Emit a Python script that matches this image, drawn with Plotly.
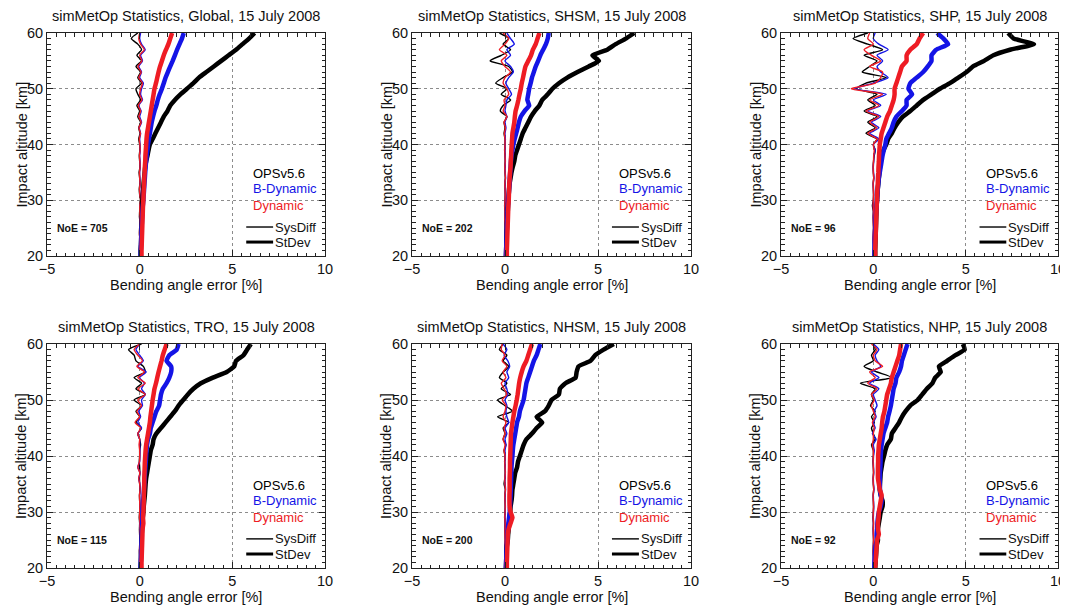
import plotly.graph_objects as go

ALT = [20, 21, 22, 23, 24, 25, 26, 27, 28, 29, 30, 31, 32, 33, 34, 35, 36, 37, 38, 39, 40,
       41, 42, 43, 44, 45, 46, 47, 48, 49, 50, 51, 52, 53, 54, 55, 56, 57, 58, 59, 60]

REGIONS = ["Global", "SHSM", "SHP", "TRO", "NHSM", "NHP"]
NOE = [705, 202, 96, 115, 200, 92]
MODELS = ["OPSv5.6", "B-Dynamic", "Dynamic"]

# ---------------- Global ----------------
glob_ops_sd = [0.05, 0.06, 0.07, 0.08, 0.09, 0.10, 0.11, 0.12, 0.13, 0.14, 0.15,
               0.17, 0.19, 0.21, 0.24, 0.27, 0.30, 0.35, 0.42, 0.48, 0.55,
               0.70, 0.85, 1.00, 1.15, 1.30, 1.50, 1.65, 1.90, 2.20, 2.55,
               2.90, 3.20, 3.60, 4.00, 4.40, 4.80, 5.20, 5.55, 5.90, 6.20]
glob_bd_sd = [0.05, 0.06, 0.07, 0.08, 0.09, 0.10, 0.12, 0.13, 0.15, 0.17, 0.20,
              0.22, 0.24, 0.26, 0.28, 0.30, 0.32, 0.35, 0.38, 0.42, 0.45,
              0.50, 0.55, 0.60, 0.65, 0.72, 0.80, 0.90, 0.98, 1.08, 1.20,
              1.30, 1.40, 1.52, 1.65, 1.78, 1.90, 2.02, 2.15, 2.28, 2.38]
glob_dy_sd = [0.10, 0.10, 0.11, 0.12, 0.13, 0.14, 0.15, 0.16, 0.17, 0.18, 0.20,
              0.21, 0.22, 0.24, 0.25, 0.27, 0.28, 0.30, 0.31, 0.33, 0.35,
              0.37, 0.40, 0.45, 0.50, 0.55, 0.60, 0.65, 0.70, 0.75, 0.80,
              0.88, 0.95, 1.02, 1.10, 1.20, 1.30, 1.42, 1.55, 1.65, 1.75]
glob_ops_sys = [0.00, -0.02, 0.00, 0.01, -0.01, 0.00, 0.02, -0.01, 0.00, 0.01, 0.05,
                0.00, -0.02, 0.01, 0.00, -0.03, 0.02, 0.00, -0.02, 0.01, 0.00,
                -0.05, 0.02, -0.05, 0.05, -0.10, 0.00, -0.15, 0.05, -0.10, -0.20,
                0.10, -0.10, 0.05, -0.20, 0.10, -0.15, 0.10, -0.10, -0.45, -0.10]
glob_bd_sys = [0.00, 0.01, 0.00, 0.02, 0.00, 0.01, 0.02, 0.00, 0.01, 0.02, 0.10,
               0.02, 0.00, 0.03, 0.01, 0.00, 0.03, 0.02, 0.00, 0.03, 0.02,
               0.00, 0.05, -0.02, 0.10, 0.00, 0.08, -0.05, 0.15, 0.05, 0.10,
               0.20, 0.00, 0.10, -0.05, 0.15, 0.05, 0.30, 0.10, 0.00, 0.05]
glob_dy_sys = [0.00, 0.00, 0.01, 0.01, -0.01, 0.00, 0.01, 0.00, 0.00, 0.01, 0.05,
               0.01, -0.01, 0.02, 0.00, -0.01, 0.02, 0.01, -0.01, 0.02, 0.01,
               -0.02, 0.04, -0.04, 0.08, -0.05, 0.05, -0.08, 0.12, 0.00, 0.05,
               0.15, -0.05, 0.08, -0.10, 0.12, 0.00, 0.25, 0.05, -0.05, 0.00]

# ---------------- SHSM ----------------
shsm_ops_sd = [0.05, 0.06, 0.07, 0.08, 0.09, 0.10, 0.11, 0.13, 0.15, 0.16, 0.18,
               0.20, 0.22, 0.25, 0.30, 0.35, 0.42, 0.50, 0.55, 0.65, 0.75,
               0.85, 0.95, 1.10, 1.25, 1.40, 1.60, 1.85, 2.00, 2.30, 2.55,
               2.90, 3.35, 3.90, 4.50, 5.05, 4.70, 5.50, 5.95, 6.50, 6.95]
shsm_bd_sd = [0.05, 0.06, 0.07, 0.08, 0.09, 0.10, 0.11, 0.13, 0.14, 0.16, 0.18,
              0.20, 0.22, 0.24, 0.26, 0.28, 0.30, 0.32, 0.35, 0.40, 0.45,
              0.52, 0.60, 0.68, 0.75, 0.85, 1.05, 1.30, 1.20, 1.25, 1.30,
              1.38, 1.45, 1.55, 1.65, 1.78, 1.90, 2.05, 2.20, 2.30, 2.35]
shsm_dy_sd = [0.10, 0.10, 0.11, 0.12, 0.13, 0.14, 0.15, 0.16, 0.17, 0.18, 0.20,
              0.21, 0.22, 0.23, 0.25, 0.27, 0.30, 0.31, 0.33, 0.34, 0.36,
              0.38, 0.40, 0.45, 0.50, 0.53, 0.57, 0.65, 0.72, 0.78, 0.85,
              0.90, 0.97, 1.03, 1.10, 1.25, 1.40, 1.50, 1.65, 1.75, 1.85]
shsm_ops_sys = [0.00, 0.01, 0.00, -0.01, 0.00, 0.02, 0.00, -0.01, 0.00, -0.02, 0.00,
                0.01, 0.00, -0.01, 0.02, 0.00, -0.01, 0.01, 0.00, -0.02, 0.00,
                0.00, -0.05, 0.00, -0.05, 0.10, -0.25, -0.10, 0.30, -0.20, 0.10,
                -0.50, -0.10, 0.40, 0.20, -0.80, -0.20, 0.30, -0.10, 0.20, -0.30]
shsm_bd_sys = [0.00, 0.01, 0.01, 0.00, 0.01, 0.02, 0.01, 0.00, 0.01, 0.00, 0.01,
               0.02, 0.01, 0.00, 0.03, 0.01, 0.00, 0.02, 0.01, 0.00, 0.01,
               0.02, 0.00, 0.05, 0.00, 0.10, 0.00, 0.05, 0.10, 0.35, 0.20,
               0.05, 0.20, 0.45, 0.30, 0.00, 0.30, 0.10, 0.50, 0.30, 0.10]
shsm_dy_sys = [0.00, 0.00, 0.01, -0.01, 0.00, 0.01, 0.00, 0.00, 0.01, -0.01, 0.00,
               0.01, 0.00, -0.01, 0.02, 0.00, -0.01, 0.01, 0.00, -0.01, 0.00,
               0.00, -0.03, 0.02, -0.05, 0.10, -0.10, 0.00, -0.05, 0.20, 0.10,
               -0.10, 0.00, 0.30, 0.00, -0.20, 0.10, -0.30, 0.00, 0.20, -0.10]

# ---------------- SHP ----------------
shp_ops_sd = [0.10, 0.10, 0.11, 0.12, 0.13, 0.14, 0.15, 0.16, 0.17, 0.18, 0.20,
              0.22, 0.24, 0.27, 0.30, 0.33, 0.36, 0.40, 0.45, 0.55, 0.70,
              0.80, 1.00, 1.15, 1.35, 1.60, 2.00, 2.35, 2.70, 3.15, 3.60,
              4.15, 4.60, 5.05, 5.40, 6.00, 6.50, 7.40, 8.70, 7.60, 7.30]
shp_bd_sd = [0.05, 0.06, 0.07, 0.08, 0.09, 0.10, 0.12, 0.13, 0.15, 0.17, 0.20,
             0.22, 0.24, 0.27, 0.30, 0.35, 0.40, 0.45, 0.50, 0.57, 0.65,
             0.70, 0.85, 1.00, 1.10, 1.25, 1.55, 1.80, 1.80, 2.10, 1.90,
             2.00, 2.35, 2.70, 2.95, 3.15, 3.15, 3.40, 4.05, 3.80, 3.45]
shp_dy_sd = [0.10, 0.10, 0.11, 0.12, 0.13, 0.14, 0.15, 0.16, 0.17, 0.18, 0.20,
             0.21, 0.22, 0.24, 0.25, 0.27, 0.28, 0.30, 0.31, 0.33, 0.35,
             0.40, 0.45, 0.55, 0.65, 0.75, 0.90, 1.00, 1.10, 1.15, 1.15,
             1.25, 1.35, 1.45, 1.55, 1.80, 1.80, 2.00, 2.35, 2.50, 2.70]
shp_ops_sys = [0.00, 0.01, 0.00, -0.01, 0.00, 0.01, 0.00, -0.01, 0.00, -0.05, 0.00,
               0.01, 0.00, -0.01, 0.02, 0.00, -0.01, 0.01, 0.05, 0.10, 0.00,
               0.20, -0.40, 0.10, -0.30, 0.20, -0.50, 0.10, -0.30, 0.20, -0.90,
               -0.40, 0.70, -0.60, -0.20, 0.20, -0.50, 0.50, -0.30, -1.10, -0.30]
shp_bd_sys = [0.00, 0.01, 0.01, 0.00, 0.01, 0.02, 0.01, 0.00, 0.01, 0.00, 0.01,
              0.02, 0.01, 0.00, 0.03, 0.01, 0.00, 0.02, 0.03, 0.10, 0.00,
              0.30, -0.20, 0.30, -0.10, 0.40, -0.30, 0.40, 0.00, 0.70, -1.00,
              0.00, 0.80, 0.40, 0.20, 0.50, 0.20, 0.80, 0.30, 0.00, 0.10]
shp_dy_sys = [0.00, 0.00, 0.01, -0.01, 0.00, 0.01, 0.00, 0.00, 0.01, -0.01, 0.00,
              0.01, 0.00, -0.01, 0.02, 0.00, -0.01, 0.01, 0.02, 0.05, 0.00,
              0.20, -0.30, 0.20, -0.20, 0.30, -0.40, 0.30, -0.20, 0.50, -1.20,
              0.10, 0.40, 0.50, -0.20, 0.40, -0.10, -0.50, 0.00, -0.30, -0.20]

# ---------------- TRO ----------------
tro_ops_sd = [0.05, 0.06, 0.07, 0.08, 0.09, 0.10, 0.11, 0.13, 0.15, 0.17, 0.20,
              0.22, 0.25, 0.28, 0.30, 0.32, 0.35, 0.40, 0.45, 0.50, 0.55,
              0.60, 0.70, 0.75, 0.90, 1.15, 1.40, 1.65, 1.90, 2.10, 2.35,
              2.60, 2.90, 3.30, 3.95, 4.70, 5.10, 5.20, 5.60, 5.80, 6.00]
tro_bd_sd = [0.05, 0.06, 0.07, 0.08, 0.09, 0.10, 0.11, 0.12, 0.13, 0.14, 0.15,
             0.17, 0.19, 0.21, 0.23, 0.25, 0.27, 0.29, 0.31, 0.33, 0.35,
             0.37, 0.40, 0.45, 0.55, 0.60, 0.70, 0.80, 0.90, 1.05, 1.10,
             1.15, 1.25, 1.45, 1.60, 1.70, 1.70, 1.45, 1.60, 2.00, 2.10]
tro_dy_sd = [0.10, 0.10, 0.11, 0.12, 0.13, 0.14, 0.15, 0.16, 0.20, 0.18, 0.20,
             0.21, 0.22, 0.23, 0.24, 0.25, 0.25, 0.26, 0.27, 0.28, 0.30,
             0.32, 0.35, 0.40, 0.45, 0.50, 0.55, 0.58, 0.62, 0.66, 0.70,
             0.75, 0.80, 0.88, 0.95, 1.02, 1.10, 1.18, 1.25, 1.35, 1.45]
tro_ops_sys = [0.00, 0.01, 0.00, -0.01, 0.00, 0.01, 0.00, -0.01, 0.00, -0.02, 0.00,
               0.01, 0.00, -0.01, 0.02, 0.00, -0.01, 0.01, 0.00, -0.02, 0.00,
               0.00, 0.05, 0.00, -0.10, 0.10, -0.20, 0.00, -0.20, 0.10, -0.30,
               0.30, -0.20, 0.10, -0.30, 0.30, 0.20, -0.20, -0.30, -0.60, 0.10]
tro_bd_sys = [0.00, 0.01, 0.01, 0.00, 0.01, 0.02, 0.01, 0.00, 0.01, 0.00, 0.01,
              0.02, 0.01, 0.00, 0.03, 0.01, -0.05, 0.02, -0.10, 0.00, 0.01,
              0.02, 0.00, 0.00, -0.10, 0.10, -0.10, 0.05, -0.05, 0.15, 0.10,
              0.30, 0.10, 0.25, 0.00, 0.35, -0.10, 0.20, 0.00, -0.20, 0.00]
tro_dy_sys = [0.00, 0.00, 0.01, -0.01, 0.00, 0.01, 0.00, 0.00, 0.01, -0.01, 0.00,
              0.01, 0.00, -0.01, 0.02, 0.00, -0.05, 0.01, -0.10, -0.01, 0.00,
              0.00, -0.03, 0.00, -0.10, 0.05, -0.25, 0.00, -0.15, 0.10, -0.10,
              0.30, -0.10, 0.30, -0.10, 0.25, -0.15, 0.15, -0.10, -0.30, 0.00]

# ---------------- NHSM ----------------
nhsm_ops_sd = [0.05, 0.06, 0.07, 0.08, 0.10, 0.15, 0.17, 0.20, 0.22, 0.25, 0.28,
               0.30, 0.35, 0.38, 0.40, 0.45, 0.50, 0.55, 0.65, 0.70, 0.80,
               0.90, 1.00, 1.15, 1.45, 1.70, 2.00, 1.70, 2.15, 2.35, 2.50,
               2.90, 2.95, 3.25, 3.80, 3.85, 3.95, 4.60, 4.85, 5.30, 5.85]
nhsm_bd_sd = [0.05, 0.06, 0.07, 0.08, 0.10, 0.12, 0.14, 0.16, 0.18, 0.22, 0.25,
              0.27, 0.28, 0.30, 0.31, 0.32, 0.33, 0.34, 0.35, 0.37, 0.40,
              0.42, 0.45, 0.50, 0.55, 0.60, 0.65, 0.75, 0.80, 0.90, 1.00,
              1.05, 1.10, 1.15, 1.25, 1.35, 1.45, 1.55, 1.70, 1.80, 1.90]
nhsm_dy_sd = [0.10, 0.10, 0.11, 0.12, 0.13, 0.14, 0.15, 0.20, 0.30, 0.40, 0.30,
              0.25, 0.24, 0.24, 0.25, 0.25, 0.25, 0.26, 0.27, 0.27, 0.28,
              0.29, 0.30, 0.31, 0.32, 0.36, 0.40, 0.45, 0.50, 0.57, 0.63,
              0.68, 0.72, 0.76, 0.82, 0.90, 1.00, 1.15, 1.25, 1.35, 1.45]
nhsm_ops_sys = [0.00, 0.01, 0.00, -0.01, 0.00, 0.01, 0.00, -0.01, 0.00, -0.02, 0.00,
                0.01, 0.00, -0.01, 0.02, -0.05, -0.01, 0.01, 0.00, -0.02, 0.00,
                -0.05, 0.05, -0.10, 0.00, -0.10, 0.20, -0.40, 0.40, 0.00, -0.40,
                0.30, -0.20, 0.10, -0.30, -0.10, 0.20, -0.10, 0.10, -0.30, -0.10]
nhsm_bd_sys = [0.00, 0.01, 0.01, 0.00, 0.01, 0.02, 0.01, 0.00, 0.01, 0.00, 0.01,
               0.02, 0.01, 0.00, 0.03, 0.01, 0.00, 0.02, 0.01, 0.00, 0.01,
               0.00, 0.05, 0.00, 0.10, 0.00, 0.20, 0.10, 0.05, 0.10, 0.00,
               0.15, 0.10, 0.00, 0.20, 0.10, 0.25, 0.15, -0.05, 0.10, -0.10]
nhsm_dy_sys = [0.00, 0.00, 0.01, -0.01, 0.00, 0.01, 0.00, 0.00, 0.01, -0.01, 0.00,
               0.01, 0.00, -0.01, 0.02, 0.00, -0.01, 0.01, 0.00, -0.01, 0.00,
               -0.05, 0.00, -0.10, 0.00, -0.05, 0.05, -0.10, 0.00, 0.05, -0.15,
               0.10, -0.05, -0.20, 0.05, -0.10, 0.10, -0.15, 0.00, -0.20, -0.15]

# ---------------- NHP ----------------
nhp_ops_sd = [0.10, 0.12, 0.14, 0.16, 0.18, 0.25, 0.22, 0.25, 0.30, 0.35, 0.40,
              0.50, 0.50, 0.40, 0.35, 0.36, 0.38, 0.40, 0.45, 0.50, 0.58,
              0.65, 0.75, 0.95, 1.00, 1.20, 1.40, 1.55, 1.75, 2.00, 2.40,
              2.65, 2.90, 3.20, 3.35, 3.65, 3.55, 4.00, 4.45, 4.95, 4.85]
nhp_bd_sd = [0.05, 0.06, 0.08, 0.10, 0.12, 0.20, 0.18, 0.20, 0.22, 0.25, 0.30,
             0.40, 0.45, 0.40, 0.36, 0.35, 0.35, 0.36, 0.38, 0.39, 0.40,
             0.42, 0.45, 0.50, 0.55, 0.65, 0.75, 0.80, 0.88, 0.95, 1.00,
             1.05, 1.10, 1.20, 1.25, 1.40, 1.50, 1.55, 1.65, 1.75, 1.85]
nhp_dy_sd = [0.10, 0.12, 0.14, 0.16, 0.18, 0.20, 0.30, 0.25, 0.25, 0.28, 0.30,
             0.35, 0.40, 0.45, 0.35, 0.30, 0.25, 0.25, 0.25, 0.26, 0.26,
             0.28, 0.30, 0.35, 0.40, 0.45, 0.48, 0.52, 0.60, 0.65, 0.70,
             0.75, 0.85, 0.95, 1.00, 1.10, 1.20, 1.30, 1.40, 1.45, 1.50]
nhp_ops_sys = [0.00, 0.01, 0.00, -0.01, 0.00, 0.01, 0.00, -0.01, 0.00, -0.02, 0.00,
               0.01, 0.00, -0.01, 0.02, 0.00, -0.01, 0.01, 0.00, -0.02, 0.00,
               0.00, -0.10, 0.10, 0.00, -0.10, 0.05, -0.10, 0.10, -0.15, 0.00,
               -0.10, 0.10, -0.70, 1.00, 0.20, -0.50, 0.00, -0.10, 0.10, 0.00]
nhp_bd_sys = [0.00, 0.01, 0.01, 0.00, 0.01, 0.02, 0.01, 0.00, 0.01, 0.00, 0.01,
              0.02, 0.01, 0.00, 0.03, 0.01, 0.00, 0.02, 0.01, 0.00, 0.01,
              0.05, 0.00, 0.15, -0.05, 0.10, 0.00, 0.15, 0.05, 0.20, 0.10,
              0.00, 0.30, -0.20, 0.30, -0.10, 0.40, 0.20, 0.10, 0.30, 0.00]
nhp_dy_sys = [0.00, 0.00, 0.01, -0.01, 0.00, 0.01, 0.00, 0.00, 0.01, -0.01, 0.00,
              0.01, 0.00, -0.01, 0.02, 0.00, -0.01, 0.01, 0.00, -0.01, 0.00,
              0.00, -0.05, 0.00, 0.00, 0.05, -0.05, 0.10, 0.00, -0.10, 0.05,
              -0.10, 0.20, -0.30, 0.10, -0.20, 0.50, 0.10, 0.00, 0.20, -0.10]

SYSDIFF = [
    (glob_ops_sys, glob_bd_sys, glob_dy_sys),
    (shsm_ops_sys, shsm_bd_sys, shsm_dy_sys),
    (shp_ops_sys, shp_bd_sys, shp_dy_sys),
    (tro_ops_sys, tro_bd_sys, tro_dy_sys),
    (nhsm_ops_sys, nhsm_bd_sys, nhsm_dy_sys),
    (nhp_ops_sys, nhp_bd_sys, nhp_dy_sys),
]
STDEV = [
    (glob_ops_sd, glob_bd_sd, glob_dy_sd),
    (shsm_ops_sd, shsm_bd_sd, shsm_dy_sd),
    (shp_ops_sd, shp_bd_sd, shp_dy_sd),
    (tro_ops_sd, tro_bd_sd, tro_dy_sd),
    (nhsm_ops_sd, nhsm_bd_sd, nhsm_dy_sd),
    (nhp_ops_sd, nhp_bd_sd, nhp_dy_sd),
]

COLORS = ["#000000", "#1414e6", "#ee1c24"]
FONT = "Arial, Liberation Sans, sans-serif"
W, H = 1068, 606
PAGE_OFFSET = 8  # the page body margin shifts the figure by this many pixels

# panel boxes in screen pixels: (left, right, top, bottom)
BOXES = [(47, 325, 33, 256), (412, 691, 33, 256), (781, 1058, 33, 256),
         (47, 325, 344, 568), (412, 691, 344, 568), (781, 1058, 344, 568)]


def px(x):
    return (x - PAGE_OFFSET) / W


def py(y):
    return 1 - (y - PAGE_OFFSET) / H


fig = go.Figure()
annotations = []
shapes = []

for i, region in enumerate(REGIONS):
    xn = "x" if i == 0 else f"x{i + 1}"
    yn = "y" if i == 0 else f"y{i + 1}"
    for k in range(3):
        fig.add_trace(go.Scatter(x=SYSDIFF[i][k], y=ALT, xaxis=xn, yaxis=yn, mode="lines",
                                 line=dict(color=COLORS[k], width=1.4, shape="spline", smoothing=0.6),
                                 showlegend=False, hoverinfo="skip"))
    for k in range(3):
        fig.add_trace(go.Scatter(x=STDEV[i][k], y=ALT, xaxis=xn, yaxis=yn, mode="lines",
                                 line=dict(color=COLORS[k], width=4.5, shape="spline", smoothing=0.4),
                                 showlegend=False, hoverinfo="skip"))

    l, r, t, b = BOXES[i]
    axkey = "xaxis" if i == 0 else f"xaxis{i + 1}"
    aykey = "yaxis" if i == 0 else f"yaxis{i + 1}"
    common = dict(showline=True, mirror="allticks", linecolor="#222", linewidth=1,
                  ticks="inside", ticklen=6, tickcolor="#222", tickwidth=1,
                  showgrid=True, gridcolor="#8c8c8c", griddash="dot", gridwidth=1,
                  zeroline=False, automargin=False,
                  tickfont=dict(family=FONT, size=14.5, color="#111"))
    fig.update_layout({
        axkey: dict(domain=[px(l), px(r)], anchor=yn, range=[-5, 10],
                    tickvals=[-5, 0, 5, 10],
                    minor=dict(dtick=0.5, tick0=0, ticks="inside", ticklen=3.5,
                               tickcolor="#222", showgrid=False),
                    **common),
        aykey: dict(domain=[py(b), py(t)], anchor=xn, range=[20, 60],
                    tickvals=[20, 30, 40, 50, 60],
                    minor=dict(dtick=1, tick0=20, ticks="inside", ticklen=3.5,
                               tickcolor="#222", showgrid=False),
                    **common),
    })

    cx = (l + r) / 2
    annotations.append(dict(text=f"simMetOp Statistics, {region}, 15 July 2008",
                            xref="paper", yref="paper", x=px(cx), y=py(t - 17),
                            xanchor="center", yanchor="middle", showarrow=False,
                            font=dict(family=FONT, size=14.5, color="#111")))
    annotations.append(dict(text="Bending angle error [%]",
                            xref="paper", yref="paper", x=px(cx), y=py(b + 29),
                            xanchor="center", yanchor="middle", showarrow=False,
                            font=dict(family=FONT, size=14.5, color="#111")))
    annotations.append(dict(text="Impact altitude [km]", textangle=-90,
                            xref="paper", yref="paper", x=px(l - 26), y=py((t + b) / 2),
                            xanchor="center", yanchor="middle", showarrow=False,
                            font=dict(family=FONT, size=14.5, color="#111")))
    annotations.append(dict(text=f"<b>NoE = {NOE[i]}</b>", xref=xn, yref=yn,
                            x=-4.55, y=25.0, xanchor="left", yanchor="middle", showarrow=False,
                            font=dict(family=FONT, size=10.5, color="#111")))
    for k, (name, yy) in enumerate(zip(MODELS, [34.8, 32.1, 29.1])):
        annotations.append(dict(text=name, xref=xn, yref=yn, x=6.0, y=yy,
                                xanchor="left", yanchor="middle", showarrow=False,
                                font=dict(family=FONT, size=13, color=COLORS[k])))
    for name, yy, w in [("SysDiff", 25.2, 1.4), ("StDev", 22.5, 3)]:
        shapes.append(dict(type="line", xref=xn, yref=yn, x0=5.75, x1=7.2, y0=yy, y1=yy,
                           line=dict(color="#000", width=w)))
        annotations.append(dict(text=name, xref=xn, yref=yn, x=7.2, y=yy,
                                xanchor="left", yanchor="middle", showarrow=False,
                                font=dict(family=FONT, size=13, color="#111")))

fig.update_layout(width=W, height=H,
                  margin=dict(l=0, r=0, t=0, b=0, pad=0, autoexpand=False),
                  paper_bgcolor="white", plot_bgcolor="white",
                  annotations=annotations, shapes=shapes, showlegend=False)

fig.write_html("out.html")
